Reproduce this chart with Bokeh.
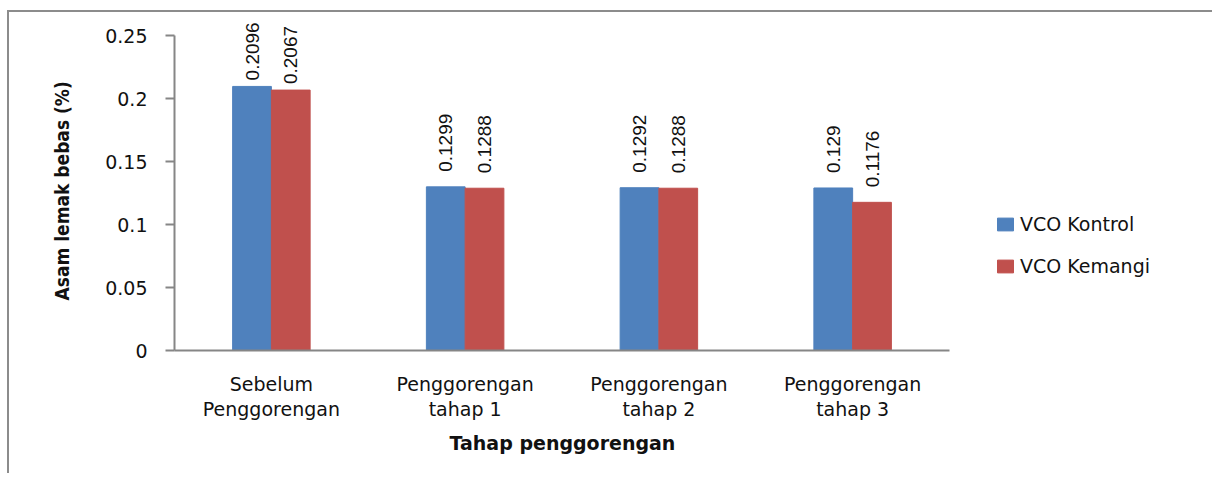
import math
from bokeh.plotting import figure
from bokeh.models import (ColumnDataSource, Range1d, FixedTicker,
                          Legend, LegendItem, Title)
from bokeh.core.properties import value
from bokeh.embed import file_html
from bokeh.resources import INLINE

# ---- data ----
categories = ["Sebelum\nPenggorengan", "Penggorengan\ntahap 1",
              "Penggorengan\ntahap 2", "Penggorengan\ntahap 3"]
series_names = ["VCO Kontrol", "VCO Kemangi"]
vco_kontrol = [0.2096, 0.1299, 0.1292, 0.129]
vco_kemangi = [0.2067, 0.1288, 0.1288, 0.1176]
y_ticks = [0, 0.05, 0.1, 0.15, 0.2, 0.25]
y_tick_labels = ["0", "0.05", "0.1", "0.15", "0.2", "0.25"]
x_title = "Tahap penggorengan"
y_title = "Asam lemak bebas (%)"

BLUE = "#4F81BD"
RED = "#C0504D"
AXIS = "#868686"
TXT = "#111111"
BAR_W = 0.2


def gaps(vals):
    # labels near the chart top are pushed down (as Excel does)
    return [-6 if v > 0.2 else -15 for v in vals]


centers = [i + 0.5 for i in range(len(categories))]
src = ColumnDataSource(dict(
    xk=[c - BAR_W / 2 for c in centers], xm=[c + BAR_W / 2 for c in centers],
    k=vco_kontrol, m=vco_kemangi,
    kt=[str(v) for v in vco_kontrol], mt=[str(v) for v in vco_kemangi],
    ko=gaps(vco_kontrol), mo=gaps(vco_kemangi),
))

# frame runs to the right edge so the legend can live inside it;
# the category axis itself is bounded to the 4 categories
W, H = 1205, 463
LEFT, BOTTOM, TOP = 165, 125, 2
cat_px = 193.75
x_end = (W - LEFT) / cat_px

p = figure(x_range=Range1d(0, x_end), y_range=Range1d(0, 0.2667),
           width=W, height=H, output_backend="svg", toolbar_location=None,
           min_border_left=LEFT, min_border_right=0,
           min_border_top=TOP, min_border_bottom=BOTTOM)
p.styles = {"border-left": "2px solid #8c8c8c", "border-top": "2px solid #8c8c8c",
            "margin-left": "7px", "margin-top": "10px"}
p.outline_line_color = None
p.xgrid.visible = False
p.ygrid.visible = False
p.background_fill_color = "white"
p.border_fill_color = "white"

r1 = p.vbar(x="xk", top="k", width=BAR_W, source=src,
            fill_color=BLUE, line_color=BLUE)
r2 = p.vbar(x="xm", top="m", width=BAR_W, source=src,
            fill_color=RED, line_color=RED)

for xcol, col, txt, off in (("xk", "k", "kt", "ko"), ("xm", "m", "mt", "mo")):
    p.text(x=xcol, y=col, text=txt, y_offset=off,
           angle=math.pi / 2, text_align="left", text_baseline="middle",
           text_font=value("Liberation Sans"), text_font_size="19px",
           text_color=TXT, source=src)

# y axis
ya = p.yaxis[0]
ya.ticker = FixedTicker(ticks=y_ticks)
ya.major_label_overrides = {t: s for t, s in zip(y_ticks, y_tick_labels)}
ya.bounds = (0, 0.25)
ya.minor_tick_line_color = None
ya.major_tick_in = 0
ya.major_tick_out = 9
ya.major_tick_line_color = AXIS
ya.major_tick_line_width = 2
ya.axis_line_color = AXIS
ya.axis_line_width = 2
ya.major_label_standoff = 18
ya.major_label_text_font = "DejaVu Sans"
ya.major_label_text_font_size = "19px"
ya.major_label_text_color = TXT

# x axis (categories)
xa = p.xaxis[0]
xa.ticker = FixedTicker(ticks=centers)
xa.major_label_overrides = {c: s for c, s in zip(centers, categories)}
xa.bounds = (0, len(categories))
xa.major_tick_line_color = None
xa.minor_tick_line_color = None
xa.axis_line_color = AXIS
xa.axis_line_width = 2
xa.major_label_standoff = 16
xa.major_label_text_font = "DejaVu Sans"
xa.major_label_text_font_size = "19px"
xa.major_label_text_line_height = 1.15
xa.major_label_text_color = TXT

# axis titles, placed along the category span (not the legend area)
p.add_layout(Title(text=x_title, align="left", offset=275, standoff=14,
                   text_font="DejaVu Sans", text_font_style="bold",
                   text_font_size="19px", text_color=TXT), "below")
p.add_layout(Title(text=y_title, align="left", offset=50, standoff=60,
                   text_font="DejaVu Sans Condensed, Liberation Sans, sans-serif",
                   text_font_style="bold", text_font_size="19px",
                   text_color=TXT), "left")

legend = Legend(items=[LegendItem(label=series_names[0], renderers=[r1]),
                       LegendItem(label=series_names[1], renderers=[r2])],
                location=(821, 73), orientation="vertical",
                border_line_color=None, background_fill_alpha=0,
                padding=0, margin=0, spacing=20,
                glyph_width=20, glyph_height=16, label_standoff=5,
                label_height=20,
                label_text_font="DejaVu Sans", label_text_font_size="19px",
                label_text_color=TXT)
p.add_layout(legend, "center")

open("out.html", "w").write(file_html(p, INLINE))
